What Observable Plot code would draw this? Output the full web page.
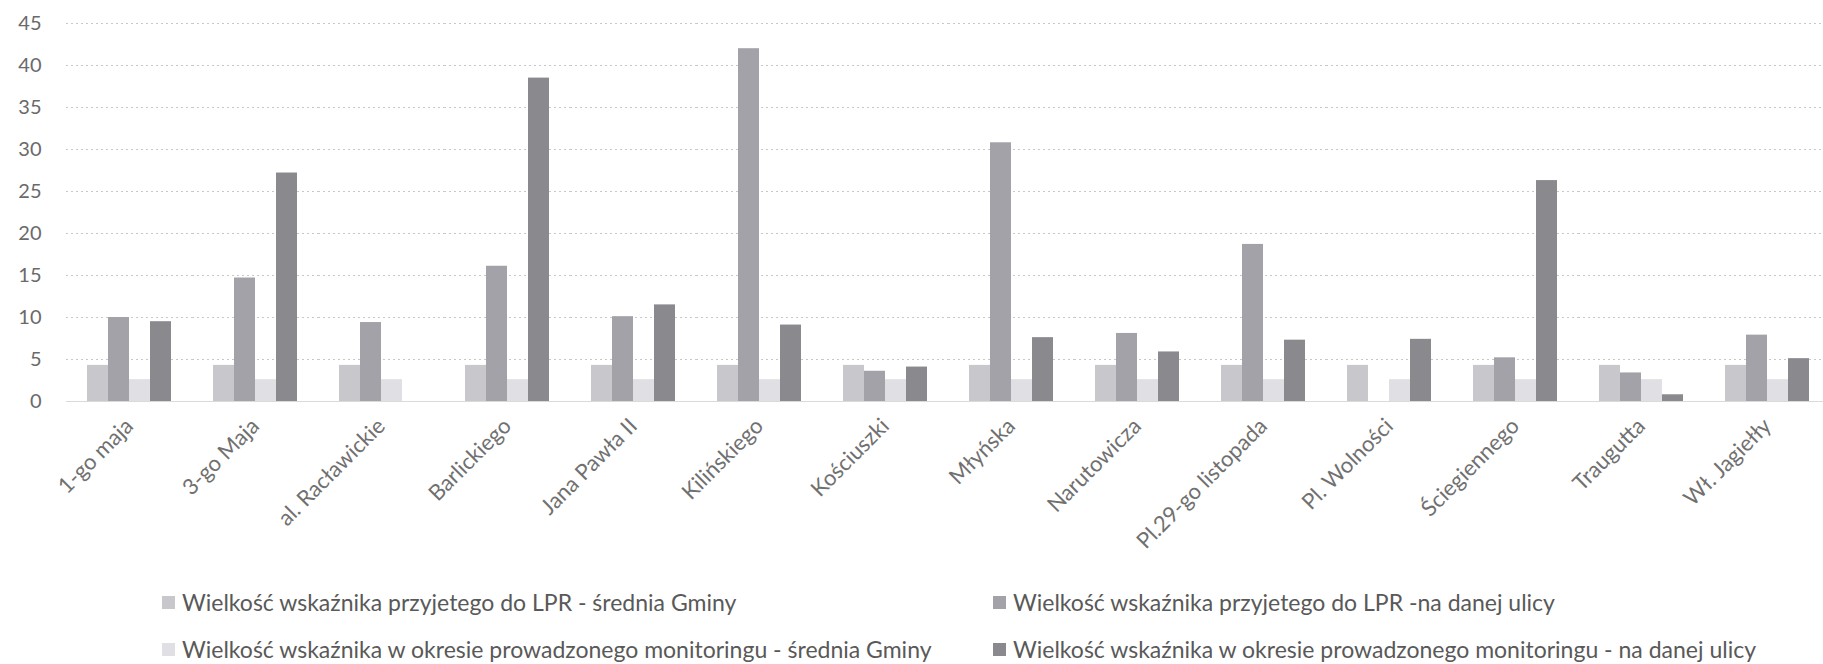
<!DOCTYPE html>
<html>
<head>
<meta charset="utf-8">
<script src="https://cdn.jsdelivr.net/npm/d3@7"></script>
<script src="https://cdn.jsdelivr.net/npm/@observablehq/plot@0.6"></script>
<style>
  html, body { margin: 0; padding: 0; background: #fff; overflow: hidden; }
  #wrap { position: relative; width: 1823px; height: 664px; font-family: Lato, "Open Sans", sans-serif; }
  #chart svg { display: block; }
  .leg { position: absolute; display: flex; align-items: center; font-size: 23px; color: #595959; white-space: nowrap; line-height: 28px; height: 28px; }
  .leg .sw { width: 13px; height: 13px; margin-right: 7px; }
</style>
</head>
<body>
<div id="wrap">
  <div id="chart"></div>
  <div id="legend"></div>
</div>
<script>
// ---- data ----
const streets = ["1-go maja", "3-go Maja", "al. Racławickie", "Barlickiego", "Jana Pawła II", "Kilińskiego", "Kościuszki", "Młyńska", "Narutowicza", "Pl.29-go listopada", "Pl. Wolności", "Ściegiennego", "Traugutta", "Wł. Jagiełły"];
const seriesNames = [
  "Wielkość wskaźnika przyjetego do LPR - średnia Gminy",
  "Wielkość wskaźnika przyjetego do LPR -na danej ulicy",
  "Wielkość wskaźnika w okresie prowadzonego monitoringu - średnia Gminy",
  "Wielkość wskaźnika w okresie prowadzonego monitoringu - na danej ulicy"
];
const lprAverage     = [4.3, 4.3, 4.3, 4.3, 4.3, 4.3, 4.3, 4.3, 4.3, 4.3, 4.3, 4.3, 4.3, 4.3];
const lprStreet      = [10.0, 14.7, 9.4, 16.1, 10.1, 42.0, 3.6, 30.8, 8.1, 18.7, 0, 5.2, 3.4, 7.9];
const monitorAverage = [2.6, 2.6, 2.6, 2.6, 2.6, 2.6, 2.6, 2.6, 2.6, 2.6, 2.6, 2.6, 2.6, 2.6];
const monitorStreet  = [9.5, 27.2, 0, 38.5, 11.5, 9.1, 4.1, 7.6, 5.9, 7.3, 7.4, 26.3, 0.8, 5.1];
const yTicks = [0, 5, 10, 15, 20, 25, 30, 35, 40, 45];
const colors = ["#c8c8cc", "#a2a2a8", "#e0e0e4", "#89898e"];

const seriesValues = [lprAverage, lprStreet, monitorAverage, monitorStreet];
const rows = streets.flatMap((s, i) => seriesNames.map((n, j) => ({street: s, series: n, value: seriesValues[j][i]})));

const chart = Plot.plot({
  width: 1823,
  height: 570,
  marginLeft: 61,
  marginRight: -11,
  marginTop: 23,
  marginBottom: 169,
  style: {fontFamily: "Lato, 'Open Sans', sans-serif", background: "#fff", color: "#666"},
  fx: {domain: streets, padding: 0, label: null, axis: null},
  x: {domain: seriesNames, paddingInner: 0, paddingOuter: 1, axis: null},
  y: {domain: [0, 45], label: null, axis: null},
  color: {domain: seriesNames, range: colors},
  marks: [
    Plot.gridY(yTicks, {stroke: "#c8c8c8", strokeOpacity: 1, strokeDasharray: "2,3"}),
    Plot.barY(rows, {fx: "street", x: "series", y: "value", fill: "series"}),
    Plot.ruleY([0], {stroke: "#dadada"}),
    Plot.axisY(yTicks, {anchor: "left", tickSize: 0, tickPadding: 25, fontSize: 20, fill: "#6a6a6a", label: null}),
    Plot.axisFx({anchor: "bottom", tickSize: 0, tickPadding: 21, tickRotate: -45, fontSize: 22, fill: "#707070", label: null})
  ]
});
document.getElementById("chart").appendChild(chart);

// ---- legend (HTML, below the svg) ----
const legendPos = [
  {left: 162, top: 588},
  {left: 993, top: 588},
  {left: 162, top: 635},
  {left: 993, top: 635}
];
const legend = document.getElementById("legend");
seriesNames.forEach((name, j) => {
  const item = document.createElement("div");
  item.className = "leg";
  item.style.left = legendPos[j].left + "px";
  item.style.top = legendPos[j].top + "px";
  const sw = document.createElement("span");
  sw.className = "sw";
  sw.style.background = colors[j];
  const tx = document.createElement("span");
  tx.textContent = name;
  item.appendChild(sw);
  item.appendChild(tx);
  legend.appendChild(item);
});
</script>
</body>
</html>
